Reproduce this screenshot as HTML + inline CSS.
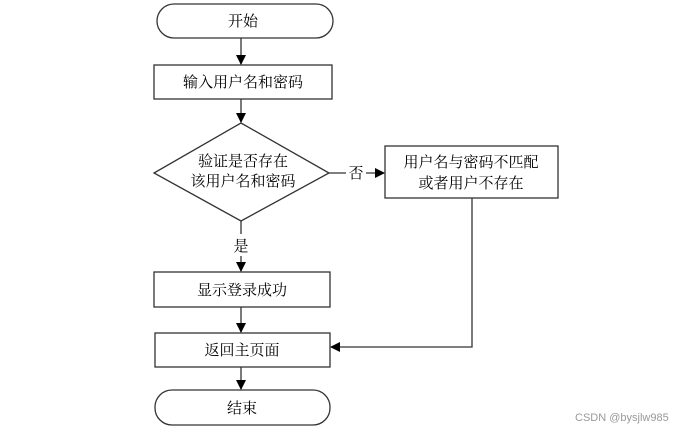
<!DOCTYPE html>
<html><head><meta charset="utf-8"><style>
body{margin:0;background:#fff;width:682px;height:431px;overflow:hidden}
</style></head><body>
<svg width="682" height="431" xmlns="http://www.w3.org/2000/svg" font-family="'Liberation Serif','Noto Serif CJK SC',serif" font-size="15" fill="#000">
<defs><marker id="a" markerWidth="10" markerHeight="10" refX="9" refY="5" orient="auto" markerUnits="userSpaceOnUse"><path d="M0,0 L10,5 L0,10 z" fill="#000"/></marker></defs>
<g stroke="#333" stroke-width="1.3" fill="none">
<rect x="157" y="4" width="176" height="34" rx="17"/>
<rect x="154" y="65" width="178" height="34"/>
<polygon points="241,123 329,173 241,221 154,173"/>
<rect x="385" y="146" width="173" height="52"/>
<rect x="154" y="272" width="176" height="35"/>
<rect x="155" y="333" width="175" height="34"/>
<rect x="155" y="390" width="175" height="35" rx="17"/>
<line x1="241" y1="38" x2="241" y2="64" marker-end="url(#a)"/>
<line x1="241" y1="99" x2="241" y2="122" marker-end="url(#a)"/>
<line x1="241" y1="221" x2="241" y2="234"/>
<line x1="241" y1="256" x2="241" y2="271" marker-end="url(#a)"/>
<line x1="241" y1="307" x2="241" y2="332" marker-end="url(#a)"/>
<line x1="241" y1="367" x2="241" y2="389" marker-end="url(#a)"/>
<line x1="329" y1="173" x2="346" y2="173"/>
<line x1="366" y1="173" x2="384" y2="173" marker-end="url(#a)"/>
<polyline points="472,198 472,347 331,347" marker-end="url(#a)"/>
</g>
<g text-anchor="middle">
<text x="243" y="26">开始</text>
<text x="243" y="87">输入用户名和密码</text>
<text x="243" y="166">验证是否存在</text>
<text x="243" y="186">该用户名和密码</text>
<text x="356" y="178">否</text>
<text x="471" y="167">用户名与密码不匹配</text>
<text x="471" y="188">或者用户不存在</text>
<text x="241" y="251">是</text>
<text x="242" y="295">显示登录成功</text>
<text x="242" y="355">返回主页面</text>
<text x="242" y="413">结束</text>
</g>
<text x="575" y="421" font-family="'Liberation Sans',sans-serif" font-size="11" fill="#999">CSDN @bysjlw985</text>
</svg>
</body></html>
